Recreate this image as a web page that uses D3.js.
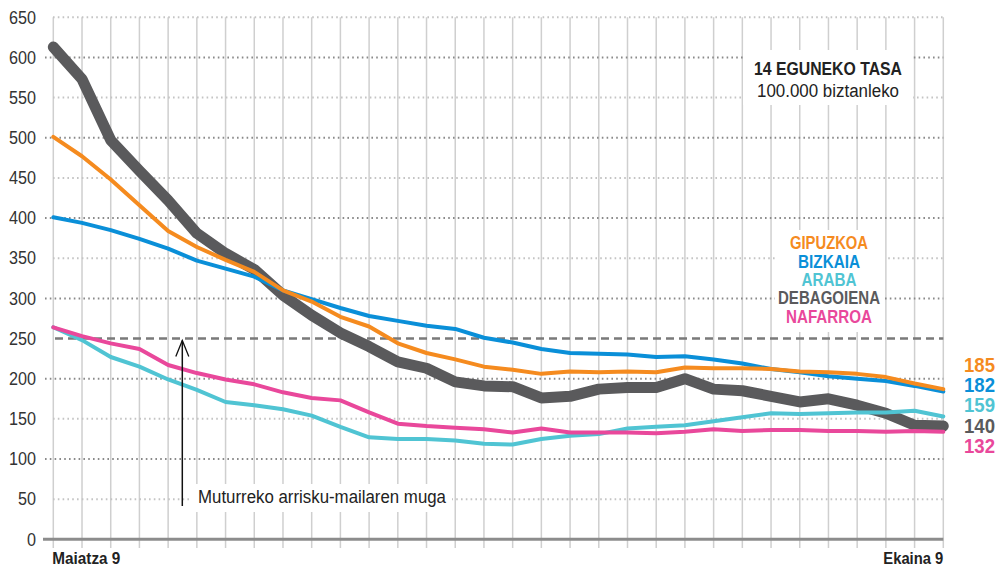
<!DOCTYPE html>
<html>
<head>
<meta charset="utf-8">
<script src="https://cdn.jsdelivr.net/npm/d3@7"></script>
<style>
  body { margin: 0; background: #fff; }
  svg { display: block; }
  text { font-family: "Liberation Sans", Arial, sans-serif; }
</style>
</head>
<body>
<div id="chart"></div>
<script>
// 14-day rate per 100,000 inhabitants, May 9 -> June 9
const days = d3.timeDay.range(new Date(2021, 4, 9), new Date(2021, 5, 10));

const gipuzkoa   = [501, 477, 448, 416, 384, 364, 348, 333, 310, 296, 277, 265, 244, 232, 224, 215, 211, 206, 209, 208, 209, 208, 214, 213, 213, 212, 209, 208, 206, 202, 194, 187];
const bizkaia    = [401, 394, 385, 374, 362, 347, 337, 327, 310, 299, 288, 278, 272, 266, 262, 251, 245, 237, 232, 231, 230, 227, 228, 224, 219, 212, 208, 203, 200, 197, 191, 184];
const araba      = [264, 248, 227, 215, 199, 186, 171, 167, 162, 154, 140, 127, 125, 125, 123, 119, 118, 125, 129, 131, 138, 140, 142, 147, 152, 157, 156, 157, 158, 158, 160, 153];
const debagoiena = [613, 573, 497, 459, 422, 381, 356, 336, 304, 279, 257, 240, 221, 213, 196, 191, 190, 176, 178, 187, 189, 189, 200, 187, 185, 178, 171, 175, 167, 157, 142, 141];
const nafarroa   = [264, 253, 244, 237, 217, 207, 199, 193, 183, 176, 173, 158, 144, 141, 139, 137, 133, 138, 133, 133, 133, 132, 134, 137, 135, 136, 136, 135, 135, 134, 135, 134];

const seriesNames = ['GIPUZKOA', 'BIZKAIA', 'ARABA', 'DEBAGOIENA', 'NAFARROA'];
const endLabels   = [185, 182, 159, 140, 132];
const yTicks      = [0, 50, 100, 150, 200, 250, 300, 350, 400, 450, 500, 550, 600, 650];
const riskLimit   = 250;

let drawChart = function() {
    let width = 997, height = 567;
    let colors = {
        GIPUZKOA: '#f58b1f', BIZKAIA: '#0a8fd8', ARABA: '#50c4d3',
        DEBAGOIENA: '#5a5a5c', NAFARROA: '#e9489b'
    };
    let values = {
        GIPUZKOA: gipuzkoa, BIZKAIA: bizkaia, ARABA: araba,
        DEBAGOIENA: debagoiena, NAFARROA: nafarroa
    };
    // the original uses a condensed face; squeeze text to these widths
    let legendWidth = {GIPUZKOA: 78, BIZKAIA: 62, ARABA: 55, DEBAGOIENA: 102, NAFARROA: 86};

    let svg = d3.select('#chart')
    .append('svg')
        .attr('width', width)
        .attr('height', height);

    let x = d3.scaleTime()
    .domain([days[0], days[days.length - 1]])
    .range([53.3, 943.3]);

    let y = d3.scaleLinear()
    .domain([0, 650])
    .range([539.3, 17.3]);

    let xEnd = x(days[days.length - 1]);

    // vertical day grid
    svg.append('g')
    .selectAll('line')
    .data(days)
    .enter()
    .append('line')
        .attr('x1', d => x(d)).attr('x2', d => x(d))
        .attr('y1', y(650)).attr('y2', 548)
        .attr('stroke', '#cfcfcf')
        .attr('stroke-width', 1.5);

    // horizontal dotted grid
    svg.append('g')
    .selectAll('line')
    .data(yTicks.filter(v => v > 0 && v !== riskLimit))
    .enter()
    .append('line')
        .attr('x1', d => d % 100 === 0 ? 45 : 53)
        .attr('x2', xEnd)
        .attr('y1', d => y(d)).attr('y2', d => y(d))
        .attr('stroke', d => d % 100 === 0 ? '#8a8a8a' : '#c4c4c4')
        .attr('stroke-width', 2)
        .attr('stroke-dasharray', '1.6,3.2');

    // risk limit dashed line
    svg.append('line')
        .attr('x1', 55).attr('x2', xEnd)
        .attr('y1', y(riskLimit)).attr('y2', y(riskLimit))
        .attr('stroke', '#7a7a7a')
        .attr('stroke-width', 2.5)
        .attr('stroke-dasharray', '8,5');

    // zero baseline
    svg.append('line')
        .attr('x1', 43).attr('x2', xEnd)
        .attr('y1', y(0)).attr('y2', y(0))
        .attr('stroke', '#8c8c8c')
        .attr('stroke-width', 3);

    // Y axis labels
    let yAxis = svg.append('g')
    .attr('transform', 'translate(36,0)')
    .call(d3.axisLeft(y).tickValues(yTicks).tickSize(0).tickPadding(0).tickFormat(d3.format('d')));
    yAxis.select('.domain').remove();
    yAxis.selectAll('text')
        .style('font-size', '18px')
        .attr('fill', '#333')
        .attr('textLength', d => String(d).length * 9)
        .attr('lengthAdjust', 'spacingAndGlyphs');

    // white boxes behind texts
    svg.append('rect').attr('x', 743).attr('y', 50).attr('width', 170).attr('height', 55).attr('fill', '#fff');
    svg.append('rect').attr('x', 775).attr('y', 230).attr('width', 110).attr('height', 102).attr('fill', '#fff');
    svg.append('rect').attr('x', 190).attr('y', 484).attr('width', 262).attr('height', 28).attr('fill', '#fff');

    // lines
    let line = d3.line()
    .x((d, i) => x(days[i]))
    .y(d => y(d));

    let drawOrder = ['DEBAGOIENA', 'ARABA', 'NAFARROA', 'BIZKAIA', 'GIPUZKOA'];
    svg.append('g')
    .selectAll('path')
    .data(drawOrder)
    .enter()
    .append('path')
        .attr('d', d => line(values[d]))
        .attr('fill', 'none')
        .attr('stroke', d => colors[d])
        .attr('stroke-width', d => d === 'DEBAGOIENA' ? 11 : 4)
        .attr('stroke-linejoin', 'round')
        .attr('stroke-linecap', 'round');

    // title
    svg.append('text')
        .attr('x', 828).attr('y', 75)
        .attr('text-anchor', 'middle')
        .style('font-size', '19px').style('font-weight', 'bold')
        .attr('fill', '#222')
        .attr('textLength', 148).attr('lengthAdjust', 'spacingAndGlyphs')
        .text('14 EGUNEKO TASA');
    svg.append('text')
        .attr('x', 828).attr('y', 96.5)
        .attr('text-anchor', 'middle')
        .style('font-size', '18px')
        .attr('fill', '#222')
        .attr('textLength', 142).attr('lengthAdjust', 'spacingAndGlyphs')
        .text('100.000 biztanleko');

    // legend
    svg.append('g')
    .selectAll('text')
    .data(seriesNames)
    .enter()
    .append('text')
        .attr('x', 829)
        .attr('y', (d, i) => 249.3 + i * 18.3)
        .attr('text-anchor', 'middle')
        .style('font-size', '17.5px').style('font-weight', 'bold')
        .attr('fill', d => colors[d])
        .attr('textLength', d => legendWidth[d]).attr('lengthAdjust', 'spacingAndGlyphs')
        .text(d => d);

    // end values
    svg.append('g')
    .selectAll('text')
    .data(endLabels)
    .enter()
    .append('text')
        .attr('x', 964)
        .attr('y', (d, i) => 371.5 + i * 20.4)
        .style('font-size', '20.5px').style('font-weight', 'bold')
        .attr('fill', (d, i) => colors[seriesNames[i]])
        .attr('textLength', 31).attr('lengthAdjust', 'spacingAndGlyphs')
        .text(d => d);

    // x labels
    svg.append('text')
        .attr('x', x(days[0]) - 1).attr('y', 564)
        .style('font-size', '16.5px').style('font-weight', 'bold')
        .attr('fill', '#222')
        .attr('textLength', 68).attr('lengthAdjust', 'spacingAndGlyphs')
        .text('Maiatza 9');
    svg.append('text')
        .attr('x', xEnd).attr('y', 564)
        .attr('text-anchor', 'end')
        .style('font-size', '16.5px').style('font-weight', 'bold')
        .attr('fill', '#222')
        .attr('textLength', 60).attr('lengthAdjust', 'spacingAndGlyphs')
        .text('Ekaina 9');

    // risk threshold annotation
    let ax = 182.3;
    svg.append('line')
        .attr('x1', ax).attr('x2', ax)
        .attr('y1', 506).attr('y2', y(riskLimit) + 2)
        .attr('stroke', '#111').attr('stroke-width', 1.5);
    svg.append('path')
        .attr('d', 'M' + (ax - 6.5) + ',' + (y(riskLimit) + 18) + 'L' + ax + ',' + (y(riskLimit) + 2) + 'L' + (ax + 6.5) + ',' + (y(riskLimit) + 18))
        .attr('fill', 'none')
        .attr('stroke', '#111').attr('stroke-width', 1.3);
    svg.append('text')
        .attr('x', 198).attr('y', 503)
        .style('font-size', '17.5px')
        .attr('fill', '#222')
        .attr('textLength', 248).attr('lengthAdjust', 'spacingAndGlyphs')
        .text('Muturreko arrisku-mailaren muga');
}

drawChart();
</script>
</body>
</html>
